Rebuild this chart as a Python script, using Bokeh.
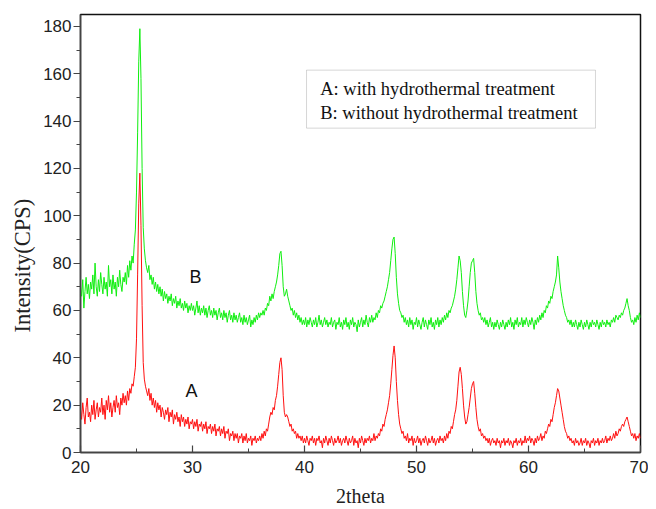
import numpy as np
from bokeh.plotting import figure
from bokeh.models import Range1d, SingleIntervalTicker, Label, BoxAnnotation, ColumnDataSource, Title
from bokeh.embed import file_html
from bokeh.resources import INLINE

# sampling grid of the diffractogram (2theta, degrees)
theta_start = 20.0
theta_step = 0.1

# A: with hydrothermal treatment (red), one row per degree
intensity_a = [
    18, 14, 21, 16, 12, 19, 23, 15, 17, 13,
    20, 16, 22, 14, 18, 21, 15, 19, 17, 23,
    16, 20, 14, 22, 18, 24, 17, 21, 15, 19,
    22, 17, 24, 19, 21, 16, 23, 20, 25, 21,
    24, 20, 26, 22, 27, 25, 29, 28, 32, 36,
    48, 75, 105, 118, 96, 62, 38, 31, 28, 26,
    24, 27, 22, 25, 20, 23, 19, 22, 17, 21,
    18, 20, 15, 19, 17, 14, 18, 16, 19, 13,
    17, 15, 18, 12, 16, 14, 17, 13, 15, 11,
    16, 13, 15, 11, 14, 12, 15, 10, 13, 12,
    14, 10, 13, 11, 14, 9, 12, 11, 13, 9,
    12, 10, 13, 8, 11, 10, 12, 8, 11, 9,
    12, 7, 10, 9, 11, 7, 10, 8, 11, 6,
    9, 8, 10, 5, 8, 7, 9, 5, 8, 6,
    8, 4, 7, 6, 8, 4, 7, 5, 8, 4,
    6, 5, 7, 3, 6, 5, 7, 4, 6, 5,
    7, 5, 8, 6, 9, 7, 10, 9, 12, 15,
    17, 16, 19, 18, 22, 24, 28, 33, 38, 40,
    35, 24, 17, 15, 16, 15, 13, 11, 12, 9,
    10, 8, 9, 6, 8, 6, 7, 5, 7, 4,
    6, 4, 7, 5, 3, 6, 5, 7, 4, 6,
    3, 6, 5, 7, 4, 5, 2, 6, 4, 7,
    5, 3, 6, 4, 7, 5, 3, 6, 4, 5,
    7, 4, 6, 3, 5, 6, 4, 7, 5, 3,
    6, 4, 5, 7, 3, 6, 4, 5, 2, 6,
    4, 7, 5, 3, 6, 4, 6, 5, 7, 4,
    6, 5, 8, 5, 7, 6, 8, 7, 10, 9,
    12, 11, 14, 16, 18, 21, 24, 29, 35, 41,
    45, 40, 30, 22, 16, 12, 10, 8, 9, 6,
    7, 5, 8, 4, 6, 5, 7, 3, 6, 4,
    5, 7, 4, 6, 3, 5, 6, 4, 7, 5,
    3, 6, 4, 5, 7, 4, 6, 3, 5, 6,
    4, 7, 5, 6, 4, 7, 5, 8, 6, 9,
    8, 11, 10, 13, 16, 18, 22, 28, 34, 36,
    33, 27, 20, 15, 12, 13, 16, 19, 23, 27,
    29, 30, 25, 19, 14, 11, 9, 10, 7, 8,
    6, 7, 5, 6, 4, 6, 3, 5, 6, 4,
    5, 3, 6, 4, 5, 2, 5, 4, 6, 3,
    5, 4, 6, 3, 5, 4, 2, 5, 4, 6,
    3, 5, 4, 6, 3, 5, 4, 7, 4, 6,
    5, 7, 4, 6, 5, 3, 6, 4, 7, 5,
    6, 8, 5, 7, 6, 9, 8, 10, 12, 11,
    14, 13, 16, 19, 21, 24, 27, 26, 23, 20,
    17, 14, 11, 9, 8, 6, 7, 5, 6, 4,
    5, 3, 6, 4, 5, 3, 4, 6, 3, 5,
    4, 6, 3, 5, 4, 2, 5, 4, 6, 3,
    5, 4, 6, 3, 5, 4, 6, 4, 5, 7,
    4, 6, 5, 7, 5, 6, 8, 6, 9, 7,
    8, 10, 9, 11, 12, 11, 13, 14, 15, 13,
    11, 9, 7, 8, 6, 8, 5, 7, 6, 8,
    6,
]

# B: without hydrothermal treatment (green), one row per degree
intensity_b = [
    70, 66, 73, 61, 68, 74, 67, 71, 65, 72,
    69, 75, 67, 80, 70, 66, 73, 68, 76, 71,
    67, 74, 69, 72, 66, 79, 70, 73, 67, 75,
    69, 72, 66, 74, 70, 77, 71, 68, 74, 72,
    76, 71, 79, 74, 81, 77, 83, 80, 88, 94,
    110, 135, 165, 179, 158, 120, 95, 86, 81, 78,
    76, 79, 73, 75, 71, 74, 69, 72, 68, 71,
    67, 70, 66, 69, 64, 68, 65, 67, 63, 66,
    64, 67, 62, 65, 63, 66, 61, 64, 62, 65,
    61, 63, 60, 64, 61, 63, 59, 62, 60, 63,
    60, 62, 58, 61, 64, 59, 62, 58, 61, 59,
    62, 58, 61, 57, 60, 62, 58, 60, 57, 61,
    58, 60, 56, 59, 61, 57, 59, 56, 60, 57,
    59, 55, 58, 60, 56, 58, 55, 59, 56, 58,
    55, 57, 59, 55, 57, 54, 58, 55, 57, 54,
    56, 58, 53, 56, 54, 57, 55, 58, 56, 59,
    57, 59, 58, 60, 58, 61, 60, 63, 62, 66,
    64, 67, 65, 68, 70, 72, 75, 79, 84, 85,
    79, 70, 66, 67, 69, 66, 64, 62, 60, 61,
    58, 60, 57, 59, 56, 58, 55, 57, 54, 56,
    54, 57, 53, 56, 54, 57, 55, 53, 56, 54,
    57, 53, 55, 58, 54, 56, 53, 55, 57, 54,
    56, 53, 55, 54, 57, 53, 55, 56, 52, 55,
    54, 57, 53, 55, 52, 56, 54, 57, 53, 55,
    52, 56, 54, 57, 53, 55, 54, 51, 56, 53,
    55, 57, 53, 56, 54, 58, 55, 53, 57, 55,
    58, 55, 57, 56, 59, 57, 60, 59, 62, 61,
    63, 64, 66, 68, 70, 73, 76, 81, 86, 90,
    91, 84, 74, 67, 63, 60, 59, 57, 58, 55,
    57, 54, 56, 53, 57, 54, 56, 52, 55, 54,
    57, 53, 56, 54, 52, 55, 57, 53, 56, 54,
    52, 56, 54, 57, 53, 55, 52, 56, 54, 57,
    53, 56, 54, 57, 55, 58, 56, 59, 57, 60,
    59, 61, 62, 64, 66, 69, 73, 78, 83, 81,
    76, 68, 62, 58, 57, 60, 64, 70, 76, 80,
    81, 82, 76, 68, 63, 60, 58, 59, 56, 57,
    55, 57, 54, 56, 53, 55, 57, 53, 55, 52,
    55, 53, 56, 54, 52, 55, 53, 56, 54, 52,
    55, 53, 56, 54, 57, 53, 55, 52, 56, 54,
    57, 53, 55, 54, 57, 53, 56, 54, 57, 55,
    53, 56, 54, 57, 55, 52, 56, 54, 57, 55,
    58, 56, 59, 57, 60, 59, 62, 61, 64, 63,
    66, 65, 68, 70, 72, 75, 83, 78, 72, 68,
    65, 62, 60, 58, 57, 55, 56, 54, 56, 53,
    55, 53, 56, 54, 52, 55, 53, 56, 54, 52,
    55, 53, 56, 54, 52, 55, 53, 56, 54, 55,
    53, 56, 54, 52, 55, 53, 56, 54, 55, 53,
    56, 54, 55, 53, 56, 55, 57, 55, 58, 57,
    56, 58, 57, 59, 58, 60, 61, 63, 65, 62,
    60, 57, 55, 56, 54, 57, 55, 58, 56, 59,
    57,
]

two_theta = np.round(theta_start + theta_step * np.arange(len(intensity_a)), 2)

x_ticks_interval = 10
y_ticks_interval = 20
x_title = "2theta"
y_title = "Intensity(CPS)"
legend_lines = ["A: with hydrothermal treatment", "B: without hydrothermal treatment"]
curve_tags = ["A", "B"]

src = ColumnDataSource(data=dict(x=two_theta, a=intensity_a, b=intensity_b))

p = figure(width=648, height=509, output_backend="svg", toolbar_location=None,
           x_range=Range1d(20, 70), y_range=Range1d(0, 185),
           min_border_left=80, min_border_right=8, min_border_top=14, min_border_bottom=56)
p.grid.visible = False
p.background_fill_color = "white"
p.border_fill_color = "white"
p.outline_line_color = "#111111"
p.outline_line_width = 1.5

p.line("x", "a", source=src, color="#ff1010", line_width=1)
p.line("x", "b", source=src, color="#10ee10", line_width=1)

xa = p.xaxis[0]
xa.ticker = SingleIntervalTicker(interval=x_ticks_interval, num_minor_ticks=2)
xa.major_tick_in = 7
xa.major_tick_out = 0
xa.minor_tick_in = 4
xa.minor_tick_out = 0
xa.major_label_standoff = 8
xa.axis_label = x_title
xa.axis_label_standoff = 9
xa.axis_label_text_font = "Liberation Serif"
xa.axis_label_text_font_size = "20px"
xa.axis_label_text_font_style = "normal"
xa.axis_label_text_color = "#222222"

ya = p.yaxis[0]
ya.ticker = SingleIntervalTicker(interval=y_ticks_interval, num_minor_ticks=2)
ya.major_tick_in = 0
ya.major_tick_out = 7
ya.minor_tick_in = 0
ya.minor_tick_out = 4
ya.major_label_standoff = 2

for ax in (xa, ya):
    ax.axis_line_color = "#444444"
    ax.axis_line_width = 1.5
    ax.major_tick_line_color = "#444444"
    ax.minor_tick_line_color = "#444444"
    ax.major_tick_line_width = 1.2
    ax.major_label_text_font = "Liberation Sans"
    ax.major_label_text_font_size = "17px"
    ax.major_label_text_color = "#222222"

# y axis title as a side title, anchored at the bottom and shifted up
p.add_layout(Title(text=y_title, align="left", offset=120, standoff=12,
                   text_font="Liberation Serif", text_font_size="22.5px",
                   text_font_style="normal", text_color="#222222"), "left")

# legend box
p.add_layout(BoxAnnotation(left=40.18, right=65.98, top=161.5, bottom=137.0,
                           fill_alpha=0, line_color="#777777", line_width=1))
p.add_layout(Label(x=41.4, y=153.5, text=legend_lines[0], text_align="left", text_baseline="middle",
                   text_font="Liberation Serif", text_font_size="18.5px", text_color="#111111"))
p.add_layout(Label(x=41.4, y=143.6, text=legend_lines[1], text_align="left", text_baseline="middle",
                   text_font="Liberation Serif", text_font_size="18.5px", text_color="#111111"))

# curve tags
p.add_layout(Label(x=29.9, y=25.9, text=curve_tags[0], text_align="center", text_baseline="middle",
                   text_font="Liberation Sans", text_font_size="18px", text_color="#111111"))
p.add_layout(Label(x=30.27, y=74.0, text=curve_tags[1], text_align="center", text_baseline="middle",
                   text_font="Liberation Sans", text_font_size="18px", text_color="#111111"))

open("out.html", "w").write(file_html(p, INLINE))
